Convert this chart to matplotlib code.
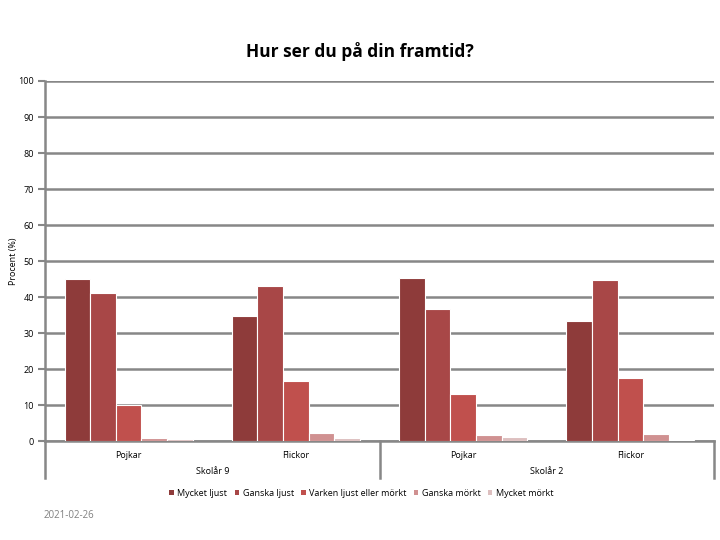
import numpy as np
import matplotlib
matplotlib.use("Agg")
import matplotlib.pyplot as plt
from matplotlib.patches import Patch

plt.rcParams['font.family'] = ['Open Sans', 'DejaVu Sans']

# data
kon = ["Pojkar", "Flickor", "Pojkar", "Flickor"]
skolar = ["Skolår 9", "Skolår 2"]
serier = ["Mycket ljust", "Ganska ljust", "Varken ljust eller mörkt", "Ganska mörkt", "Mycket mörkt"]
mycket_ljust = [45.0, 34.8, 45.4, 33.4]
ganska_ljust = [41.1, 43.1, 36.7, 44.8]
varken = [9.9, 16.6, 13.0, 17.5]
ganska_morkt = [0.8, 2.2, 1.7, 1.9]
mycket_morkt = [0.5, 0.8, 1.1, 0.3]
yticks = [0, 10, 20, 30, 40, 50, 60, 70, 80, 90, 100]

farger = ["#8E3B3A", "#A84747", "#C0504D", "#D09191", "#DDBFBF"]
grid_c = "#878787"

fig = plt.figure(figsize=(7.2, 5.4), dpi=100)
ax = fig.add_axes([0.0625, 0.1833, 0.9292, 0.6667])

x = np.arange(len(kon))
w = 0.153
vals = [mycket_ljust, ganska_ljust, varken, ganska_morkt, mycket_morkt]
for i, v in enumerate(vals):
    ax.bar(x + (i - 2) * w, v, w, color=farger[i], edgecolor="white", linewidth=0.8, zorder=3)

ax.set_xlim(-0.5, 3.5)
ax.set_ylim(0, 100)
ax.set_yticks(yticks)
ax.yaxis.grid(True, color=grid_c, linewidth=1.8, zorder=0)
ax.tick_params(axis='y', labelsize=6.5, length=5, width=1.5, color=grid_c, pad=3)
ax.tick_params(axis='x', length=0, labelbottom=False)
for s in ["top", "right"]:
    ax.spines[s].set_visible(False)
ax.spines["left"].set_color(grid_c)
ax.spines["left"].set_linewidth(1.8)
ax.spines["bottom"].set_color(grid_c)
ax.spines["bottom"].set_linewidth(1.8)
ax.set_ylabel("Procent (%)", fontsize=6.5)
ax.yaxis.set_label_coords(-0.040, 0.5)

# kategori-etiketter i två nivåer
tr = ax.get_xaxis_transform()
for xi, k in zip(x, kon):
    ax.text(xi, -0.04, k, transform=tr, ha="center", va="center", fontsize=6.5)
for j, s in enumerate(skolar):
    ax.text(0.5 + 2 * j, -0.085, s, transform=tr, ha="center", va="center", fontsize=6.5)
for xl in [-0.5, 1.5, 3.5]:
    ax.plot([xl, xl], [0, -0.103], transform=tr, color=grid_c, linewidth=1.8, clip_on=False, zorder=4)

fig.text(0.5, 0.905, "Hur ser du på din framtid?", ha="center", va="center", fontsize=12.5, fontweight="bold")

handles = [Patch(facecolor=c) for c in farger]
fig.legend(handles, serier, loc="center", bbox_to_anchor=(0.502, 0.087), ncol=5, fontsize=6.5,
           frameon=False, handlelength=0.5, handleheight=0.5, handletextpad=0.4, columnspacing=0.8)

fig.text(0.061, 0.046, "2021-02-26", fontsize=7, color="#808080", va="center")

fig.savefig("out.png", dpi=100)
